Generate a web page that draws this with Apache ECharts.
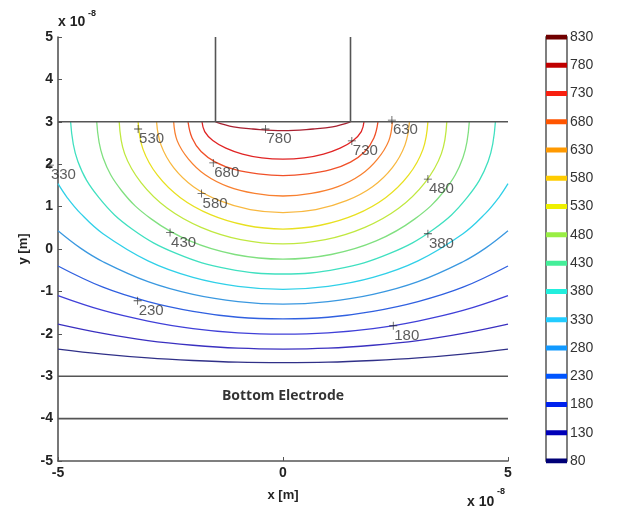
<!DOCTYPE html>
<html><head><meta charset="utf-8">
<script src="https://cdn.jsdelivr.net/npm/echarts@6/dist/echarts.min.js"></script>
<style>html,body{margin:0;padding:0;background:#fff}#c{width:633px;height:514px}</style>
</head><body><div id="c"></div><script>
// contour levels drawn in the plot (low to high)
const levels = [80,130,180,230,280,330,380,430,480,530,580,630,680,730,780];
// colour bar levels
const barLevels = [80,130,180,230,280,330,380,430,480,530,580,630,680,730,780,830];
const barColors = ['#000077','#0000b8','#0022ee','#0055ff','#1199ff','#22ccff','#22eedd','#44ee99','#99ee44','#eef000','#ffcc00','#ff9900','#ff5500','#f82010','#c00000','#700000'];
const lineColors = ['#303088','#3a30c0','#4040d8','#3060e0','#3a98e0','#30d0e8','#40e0c0','#80e080','#c0e840','#e8e020','#f8b840','#f88030','#f05028','#e02424','#a82030'];
// contour paths, [x, y] in units of 1e-8 m
const c80  = [[-5,-2.36],[-4,-2.48],[-3,-2.57],[-2,-2.63],[-1,-2.67],[0,-2.68],[1,-2.67],[2,-2.63],[3,-2.57],[4,-2.48],[5,-2.36]];
const c130 = [[-5,-1.77],[-4,-1.99],[-3,-2.16],[-2,-2.27],[-1,-2.34],[0,-2.36],[1,-2.34],[2,-2.27],[3,-2.16],[4,-1.99],[5,-1.77]];
const c180 = [[-5,-1.10],[-4,-1.45],[-3,-1.70],[-2,-1.88],[-1,-1.98],[0,-2.01],[1,-1.98],[2,-1.88],[3,-1.70],[4,-1.45],[5,-1.10]];
const c230 = [[-5,-0.40],[-4,-0.90],[-3,-1.24],[-2,-1.47],[-1,-1.61],[0,-1.65],[1,-1.61],[2,-1.47],[3,-1.24],[4,-0.90],[5,-0.40]];
const c280 = [[-5,0.43],[-4.5,0.02],[-4,-0.30],[-3,-0.77],[-2,-1.07],[-1,-1.24],[0,-1.30],[1,-1.24],[2,-1.07],[3,-0.77],[4,-0.30],[4.5,0.02],[5,0.43]];
const c330 = [[-5,1.54],[-4.8,1.22],[-4.5,0.84],[-4,0.36],[-3,-0.28],[-2,-0.67],[-1,-0.88],[0,-0.95],[1,-0.88],[2,-0.67],[3,-0.28],[4,0.36],[4.5,0.84],[4.8,1.22],[5,1.54]];
const c380 = [[-4.72,3],[-4.56,2.07],[-4.09,1.21],[-3.34,0.46],[-2.36,-0.11],[-1.22,-0.47],[0,-0.59],[1.22,-0.47],[2.36,-0.11],[3.34,0.46],[4.09,1.21],[4.56,2.07],[4.72,3]];
const c430 = [[-4.14,3],[-4.00,2.16],[-3.59,1.38],[-2.93,0.71],[-2.07,0.19],[-1.07,-0.13],[0,-0.24],[1.07,-0.13],[2.07,0.19],[2.93,0.71],[3.59,1.38],[4.00,2.16],[4.14,3]];
const c480 = [[-3.64,3],[-3.52,2.25],[-3.15,1.56],[-2.57,0.96],[-1.82,0.51],[-0.94,0.22],[0,0.12],[0.94,0.22],[1.82,0.51],[2.57,0.96],[3.15,1.56],[3.52,2.25],[3.64,3]];
const c530 = [[-3.22,3],[-3.11,2.35],[-2.79,1.74],[-2.28,1.21],[-1.61,0.81],[-0.83,0.56],[0,0.47],[0.83,0.56],[1.61,0.81],[2.28,1.21],[2.79,1.74],[3.11,2.35],[3.22,3]];
const c580 = [[-2.81,3],[-2.71,2.45],[-2.43,1.92],[-1.99,1.47],[-1.41,1.14],[-0.73,0.93],[0,0.86],[0.73,0.93],[1.41,1.14],[1.99,1.47],[2.43,1.92],[2.71,2.45],[2.81,3]];
const c630 = [[-2.43,3],[-2.35,2.55],[-2.10,2.12],[-1.73,1.75],[-1.22,1.47],[-0.63,1.31],[0,1.25],[0.63,1.31],[1.22,1.47],[1.73,1.75],[2.10,2.12],[2.35,2.55],[2.43,3]];
const c680 = [[-2.11,3],[-2.02,2.62],[-1.82,2.30],[-1.50,2.05],[-1.06,1.87],[-0.55,1.77],[0,1.73],[0.55,1.77],[1.06,1.87],[1.50,2.05],[1.82,2.30],[2.02,2.62],[2.11,3]];
const c730 = [[-1.80,3],[-1.74,2.77],[-1.56,2.56],[-1.27,2.38],[-0.90,2.24],[-0.47,2.15],[0,2.12],[0.47,2.15],[0.90,2.24],[1.27,2.38],[1.56,2.56],[1.74,2.77],[1.80,3]];
const c780 = [[-1.5,3],[-1.1,2.88],[-0.67,2.83],[0,2.79],[0.67,2.83],[1.1,2.88],[1.5,3]];
const contours = [c80,c130,c180,c230,c280,c330,c380,c430,c480,c530,c580,c630,c680,c730,c780];
// electrode outlines
const topElectrodeLine = [[-5,3],[5,3]];
const topElectrodeLeft = [[-1.5,3],[-1.5,5]];
const topElectrodeRight = [[1.5,3],[1.5,5]];
const bottomElectrodeTop = [[-5,-3],[5,-3]];
const bottomElectrodeBottom = [[-5,-4],[5,-4]];
// inline contour labels [x, y, text]
const contourLabels = [[-3.22,2.83,'530'],[-0.39,2.83,'780'],[2.42,3.04,'630'],[1.53,2.55,'730'],[-1.55,2.03,'680'],[-1.81,1.31,'580'],[3.22,1.65,'480'],[-2.51,0.39,'430'],[3.22,0.36,'380'],[-5.18,1.98,'330'],[-3.23,-1.22,'230'],[2.45,-1.81,'180']];
const regionLabel = [[0,-3.47,'Bottom Electrode']];

const FONT = "'Liberation Sans', Arial, sans-serif";
const chart = echarts.init(document.getElementById('c'), null, {renderer:'canvas'});
const series = [];
contours.forEach((d,i)=>{
  series.push({type:'line', xAxisIndex:0, yAxisIndex:0, data:d, smooth:0.4, symbol:'none', silent:true, clip:true,
    lineStyle:{color:lineColors[i], width:1.3}, z:2});
});
const gray = {color:'#555', width:1.6};
[topElectrodeLine, topElectrodeLeft, topElectrodeRight, bottomElectrodeTop, bottomElectrodeBottom].forEach(d=>{
  series.push({type:'line', xAxisIndex:0, yAxisIndex:0, data:d, symbol:'none', silent:true, clip:false, lineStyle:gray, z:3});
});
series.push({type:'scatter', xAxisIndex:0, yAxisIndex:0, data:contourLabels, clip:false, silent:true, z:5,
  symbol:'path://M4.5,0h1v4.5h4.5v1h-4.5v4.5h-1v-4.5h-4.5v-1h4.5z', symbolSize:8,
  itemStyle:{color:'#222'},
  label:{show:true, formatter:p=>p.data[2], position:[5,14], align:'left', verticalAlign:'middle',
    fontFamily:FONT, fontSize:15, color:'#333'}});
series.push({type:'scatter', xAxisIndex:0, yAxisIndex:0, data:regionLabel, symbolSize:0, silent:true, z:5,
  label:{show:true, formatter:p=>p.data[2], position:'inside', fontFamily:"'Open Sans', Lato, sans-serif", fontWeight:'bold', fontSize:14, color:'#000'}});
barLevels.forEach((lv,i)=>{
  series.push({type:'line', xAxisIndex:1, yAxisIndex:1, data:[[0,lv],[1,lv]], symbol:'none', silent:true, clip:true,
    lineStyle:{color:barColors[i], width:5}});
});

chart.setOption({
  animation:false,
  backgroundColor:'#fff',
  grid:[
    {left:58, right:125, top:37, bottom:53, show:false},
    {left:546, width:21, top:37, bottom:53, show:true, borderColor:'#555', borderWidth:1.5, backgroundColor:'#fff'}
  ],
  xAxis:[
    {gridIndex:0, type:'value', min:-5, max:5, interval:5,
      axisLine:{onZero:false, lineStyle:{color:'#555', width:1.6}},
      axisTick:{inside:true, length:4, lineStyle:{color:'#555'}},
      axisLabel:{color:'#222', fontWeight:'bold', fontSize:14, fontFamily:FONT, margin:5},
      splitLine:{show:false},
      name:'x [m]', nameLocation:'middle', nameGap:28,
      nameTextStyle:{fontWeight:'bold', fontSize:13, fontFamily:FONT, color:'#222'}},
    {gridIndex:1, type:'value', min:0, max:1, show:false}
  ],
  yAxis:[
    {gridIndex:0, type:'value', min:-5, max:5, interval:1,
      axisLine:{onZero:false, lineStyle:{color:'#555', width:1.6}},
      axisTick:{inside:true, length:4, lineStyle:{color:'#555'}},
      axisLabel:{color:'#222', fontWeight:'bold', fontSize:14, fontFamily:FONT, margin:5},
      splitLine:{show:false},
      name:'y [m]', nameLocation:'middle', nameGap:28, nameRotate:90,
      nameTextStyle:{fontWeight:'bold', fontSize:13, fontFamily:FONT, color:'#222'}},
    {gridIndex:1, type:'value', min:80, max:830, interval:50, position:'right',
      axisLine:{show:false}, axisTick:{show:false}, splitLine:{show:false},
      axisLabel:{color:'#333', fontSize:14, fontFamily:FONT, margin:3}}
  ],
  graphic:[
    {type:'text', left:58, top:15, style:{text:'x 10', font:"bold 14px "+FONT, fill:'#222'}},
    {type:'text', left:88, top:9, style:{text:'-8', font:"bold 9px "+FONT, fill:'#222'}},
    {type:'text', left:467, top:495, style:{text:'x 10', font:"bold 14px "+FONT, fill:'#222'}},
    {type:'text', left:497, top:487, style:{text:'-8', font:"bold 9px "+FONT, fill:'#222'}}
  ],
  series
});
</script></body></html>
